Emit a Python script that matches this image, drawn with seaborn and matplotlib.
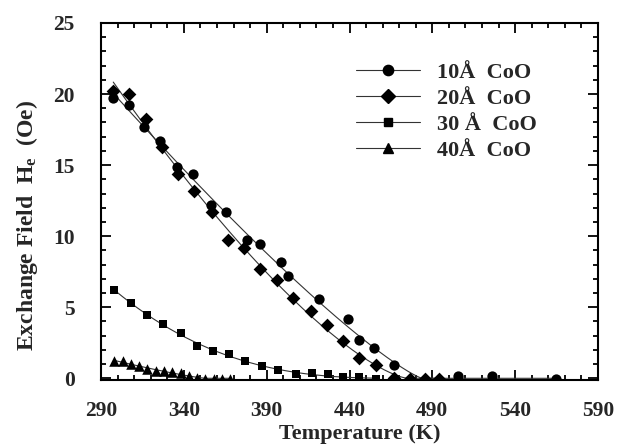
import numpy as np
import pandas as pd
import matplotlib
matplotlib.use("Agg")
import matplotlib.pyplot as plt
from matplotlib.lines import Line2D
from matplotlib.ticker import MultipleLocator
import seaborn as sns

# ---------------- data ----------------
t_10 = [297.4, 306.9, 316.1, 325.6, 335.7, 345.5, 356.2, 365.4, 377.9, 385.8,
        398.5, 402.9, 421.8, 438.9, 445.8, 454.9, 466.8, 505.2, 525.8, 564.6]
he_10 = [19.7, 19.2, 17.7, 16.7, 14.9, 14.4, 12.2, 11.7, 9.75, 9.46,
         8.19, 7.19, 5.6, 4.19, 2.69, 2.14, 0.93, 0.14, 0.14, -0.02]

t_20 = [297.4, 307.1, 317.0, 326.6, 336.3, 346.3, 356.8, 366.8, 376.1, 386.0,
        396.4, 406.1, 416.6, 426.6, 436.2, 445.5, 456.0, 466.8, 476.5, 485.5, 494.0]
he_20 = [20.25, 19.99, 18.24, 16.27, 14.4, 13.15, 11.68, 9.71, 9.15, 7.72,
         6.9, 5.67, 4.75, 3.74, 2.62, 1.45, 0.91, 0.05, -0.02, -0.07, -0.07]

t_30 = [298.0, 307.9, 317.9, 327.6, 338.3, 348.1, 357.8, 367.2, 376.9, 387.0,
        397.0, 407.7, 417.1, 427.2, 436.2, 445.9, 456.0]
he_30 = [6.18, 5.32, 4.42, 3.84, 3.21, 2.27, 1.92, 1.68, 1.21, 0.86,
         0.58, 0.28, 0.35, 0.28, 0.09, 0.09, -0.02]

t_40 = [298, 303, 308, 313, 318, 323, 328, 333, 338, 343, 348, 353, 358, 363, 368]
he_40 = [1.2, 1.25, 1.0, 0.85, 0.65, 0.5, 0.5, 0.45, 0.35, 0.15, 0.05, -0.05,
         -0.05, -0.05, -0.05]

labels = ["10\u00c5  CoO", "20\u00c5  CoO", "30 \u00c5  CoO", "40\u00c5  CoO"]
markers = ["o", "D", "s", "^"]
msizes = [7.4, 7.0, 6.0, 7.6]

x_ticks = [290, 340, 390, 440, 490, 540, 590]
y_ticks = [0, 5, 10, 15, 20, 25]

series = [(t_10, he_10), (t_20, he_20), (t_30, he_30), (t_40, he_40)]


def power_fit(t, h):
    """Fit He = A (1 - T/TB)^n by grid search; returns a callable."""
    t = np.asarray(t, float)
    h = np.asarray(h, float)
    best = None
    tmin = t[h > 0.3].max()
    for tb in np.arange(tmin + 1, 620, 1.0):
        for n in np.linspace(0.8, 4.0, 65):
            base = np.clip(1 - t / tb, 0, None) ** n
            denom = (base * base).sum()
            if denom == 0:
                continue
            a = (base * h).sum() / denom
            err = ((a * base - h) ** 2).sum()
            if best is None or err < best[0]:
                best = (err, a, tb, n)
    _, a, tb, n = best
    return lambda x: a * np.clip(1 - np.asarray(x) / tb, 0, None) ** n


rows = []
fit_rows = []
for (t, h), lab in zip(series, labels):
    for ti, hi in zip(t, h):
        rows.append({"T": ti, "He": hi, "sample": lab})
    f = power_fit(t, h)
    tt = np.linspace(min(t), max(t), 300)
    for ti, hi in zip(tt, f(tt)):
        fit_rows.append({"T": ti, "He": hi, "sample": lab})
df = pd.DataFrame(rows)
df_fit = pd.DataFrame(fit_rows)

# ---------------- styling ----------------
sns.set_theme(style="white")
plt.rcParams["font.family"] = ["Liberation Serif", "DejaVu Serif"]
plt.rcParams["font.weight"] = "bold"
plt.rcParams["mathtext.fontset"] = "custom"
plt.rcParams["mathtext.rm"] = "Liberation Serif:bold"
plt.rcParams["mathtext.it"] = "Liberation Serif:bold"
plt.rcParams["mathtext.bf"] = "Liberation Serif:bold"

fig = plt.figure(figsize=(6.23, 4.44), dpi=100)
ax = fig.add_axes([101 / 623, 1 - 380 / 444, (598 - 101) / 623, (380 - 23) / 444])

sns.lineplot(data=df_fit, x="T", y="He", hue="sample", units="sample",
             estimator=None, palette=["#333333"] * 4, linewidth=0.8,
             legend=False, ax=ax, sort=False)
for lab, m, ms in zip(labels, markers, msizes):
    sub = df[df["sample"] == lab]
    sns.scatterplot(data=sub, x="T", y="He", marker=m, s=ms ** 2, color="black",
                    edgecolor="black", linewidth=0, ax=ax, legend=False, zorder=3)

ax.set_xlim(290, 590)
ax.set_ylim(-0.12, 25)
ax.set_xticks(x_ticks)
ax.set_yticks(y_ticks)
ax.xaxis.set_minor_locator(MultipleLocator(10))
ax.yaxis.set_minor_locator(MultipleLocator(1))
ax.tick_params(which="both", direction="in", top=True, right=True,
               bottom=True, left=True, color="black", width=1.3)
ax.tick_params(which="major", length=7, labelsize=15.5)
ax.tick_params(axis="x", which="major", pad=15)
ax.tick_params(axis="y", which="major", pad=19)
ax.tick_params(which="minor", length=3.5)
for lbl in ax.get_xticklabels() + ax.get_yticklabels():
    lbl.set_fontweight("bold")
for s in ax.spines.values():
    s.set_linewidth(1.5)
    s.set_color("black")

ax.set_xlabel("Temperature (K)", fontsize=16, fontweight="bold")
ax.xaxis.set_label_coords((360 - 101) / 497, -(434 - 380) / 357)
ax.xaxis.label.set_verticalalignment("center")
ax.set_ylabel("Exchange Field  H$_{e}$  (Oe)", fontsize=17, fontweight="bold")
ax.yaxis.set_label_coords(-(101 - 27) / 497, (380 - 225) / 357)
ax.yaxis.label.set_verticalalignment("center")

handles = [Line2D([0], [0], color="#333333", lw=0.8, marker=m, markersize=ms,
                  markerfacecolor="black", markeredgecolor="black")
           for m, ms in zip(markers, msizes)]
leg = ax.legend(handles, labels, loc="upper left",
                bbox_to_anchor=((356 - 101) / 497, (380 - 62) / 357),
                frameon=False, fontsize=16, handlelength=2.9,
                labelspacing=0.25, handletextpad=0.75, borderpad=0,
                borderaxespad=0)
for txt in leg.get_texts():
    txt.set_fontweight("bold")

fig.savefig("out.png", dpi=100)
